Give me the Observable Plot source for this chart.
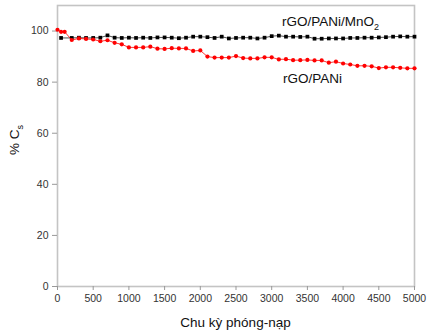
<!DOCTYPE html>
<html>
<head>
<meta charset="utf-8">
<script src="https://cdn.jsdelivr.net/npm/d3@7"></script>
<script src="https://cdn.jsdelivr.net/npm/@observablehq/plot@0.6"></script>
<style>
  html, body { margin: 0; padding: 0; background: #fff; }
  #chart { width: 427px; height: 333px; }
  svg { font-family: "Liberation Sans", Arial, sans-serif; }
</style>
</head>
<body>
<div id="chart"></div>
<script>
// Tick labels
const xTicks = [0, 500, 1000, 1500, 2000, 2500, 3000, 3500, 4000, 4500, 5000];
const yTicks = [0, 20, 40, 60, 80, 100];

// rGO/PANi/MnO2 (black squares)
const mnCycles = [50, 200, 300, 400, 500, 600, 700, 800, 900, 1000,
  1100, 1200, 1300, 1400, 1500, 1600, 1700, 1800, 1900, 2000,
  2100, 2200, 2300, 2400, 2500, 2600, 2700, 2800, 2900, 3000,
  3100, 3200, 3300, 3400, 3500, 3600, 3700, 3800, 3900, 4000,
  4100, 4200, 4300, 4400, 4500, 4600, 4700, 4800, 4900, 5000];
const mnValues = [97.3, 97.3, 97.4, 97.3, 97.3, 97.4, 98.3, 97.4, 97.3, 97.4,
  97.3, 97.4, 97.3, 97.5, 97.5, 97.4, 97.2, 97.4, 97.8, 97.8,
  97.6, 97.3, 97.8, 97.1, 97.3, 97.4, 97.4, 97.1, 97.4, 98.0,
  98.2, 97.8, 97.8, 97.7, 97.8, 97.0, 97.0, 97.1, 97.1, 97.1,
  97.3, 97.3, 97.4, 97.4, 97.5, 97.6, 97.8, 97.9, 97.8, 97.8];

// rGO/PANi (red circles)
const paniCycles = [0, 50, 100, 200, 300, 400, 500, 600, 700, 800, 900, 1000,
  1100, 1200, 1300, 1400, 1500, 1600, 1700, 1800, 1900, 2000,
  2100, 2200, 2300, 2400, 2500, 2600, 2700, 2800, 2900, 3000,
  3100, 3200, 3300, 3400, 3500, 3600, 3700, 3800, 3900, 4000,
  4100, 4200, 4300, 4400, 4500, 4600, 4700, 4800, 4900, 5000];
const paniValues = [100.5, 99.7, 99.7, 96.5, 97.1, 96.9, 96.7, 96.0, 96.4, 95.4, 94.8, 93.6,
  93.6, 93.6, 93.9, 93.1, 93.0, 93.3, 93.2, 93.2, 92.2, 92.4,
  90.0, 89.6, 89.6, 89.6, 90.2, 89.4, 89.3, 89.3, 89.7, 89.7,
  88.9, 89.0, 88.6, 88.6, 88.7, 88.5, 88.5, 87.6, 88.0, 87.3,
  86.9, 86.4, 86.4, 86.2, 85.5, 85.8, 85.8, 85.6, 85.4, 85.4];

const mnData = mnCycles.map((c, i) => ({cycle: c, cs: mnValues[i]}));
const paniData = paniCycles.map((c, i) => ({cycle: c, cs: paniValues[i]}));

const plot = Plot.plot({
  width: 427,
  height: 333,
  marginLeft: 57,
  marginRight: 13,
  marginTop: 5,
  marginBottom: 47,
  style: {fontFamily: "'Liberation Sans', Arial, sans-serif", color: "#333", background: "#fff"},
  x: {domain: [0, 5000]},
  y: {domain: [0, 110]},
  marks: [
    Plot.frame({stroke: "#c4c4c4", strokeWidth: 1.6}),
    Plot.axisX({ticks: xTicks, tickFormat: d => String(d), tickSize: 4, tickPadding: 4, stroke: "#999", fontSize: 10.5, label: null}),
    Plot.axisY({ticks: yTicks, tickFormat: d => String(d), tickSize: 5, tickPadding: 4, stroke: "#999", fontSize: 10.5, label: null}),
    Plot.line(mnData, {x: "cycle", y: "cs", stroke: "#000", strokeWidth: 0.7}),
    Plot.dot(mnData, {x: "cycle", y: "cs", symbol: "square", r: 2.1, fill: "#000", stroke: "none"}),
    Plot.line(paniData, {x: "cycle", y: "cs", stroke: "#ff0000", strokeWidth: 0.8}),
    Plot.dot(paniData, {x: "cycle", y: "cs", r: 2.1, fill: "#ff0000", stroke: "none"})
  ]
});

const svg = d3.select(plot);
// Series annotations
const t1 = svg.append("text").attr("x", 282).attr("y", 26).attr("text-anchor", "start")
  .attr("font-size", 13.5).attr("fill", "#111");
t1.append("tspan").text("rGO/PANi/MnO");
t1.append("tspan").attr("font-size", 9).attr("dy", 4).text("2");
svg.append("text").attr("x", 283).attr("y", 83).attr("text-anchor", "start")
  .attr("font-size", 13.5).attr("fill", "#111").text("rGO/PANi");
// Axis titles
svg.append("text").attr("x", 235.5).attr("y", 327).attr("text-anchor", "middle")
  .attr("font-size", 13.5).attr("fill", "#111").text("Chu kỳ phóng-nạp");
const yl = svg.append("text").attr("transform", "translate(19,140) rotate(-90)")
  .attr("text-anchor", "middle").attr("font-size", 13.5).attr("fill", "#111");
yl.append("tspan").text("% C");
yl.append("tspan").attr("font-size", 9).attr("dy", 4).text("s");

document.getElementById("chart").appendChild(plot);
</script>
</body>
</html>
